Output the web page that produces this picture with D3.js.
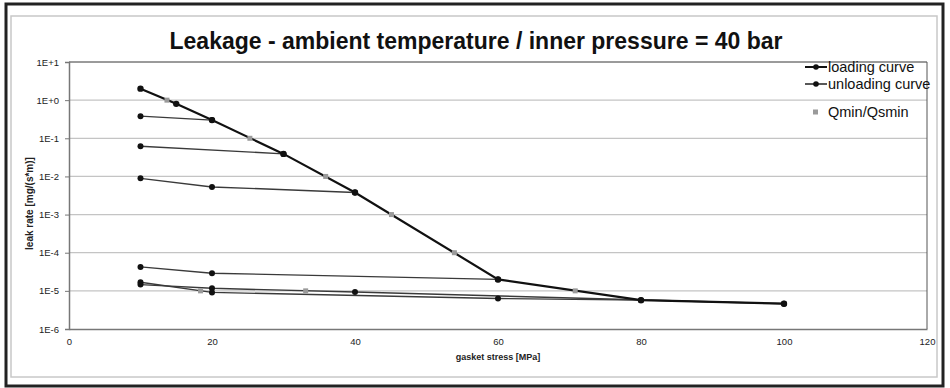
<!DOCTYPE html>
<html><head><meta charset="utf-8">
<script src="https://cdn.jsdelivr.net/npm/d3@7"></script>
<style>body{margin:0;background:#fff;} svg{display:block;font-family:"Liberation Sans",Arial,sans-serif;}</style>
</head><body>
<svg id="c" width="950" height="388"></svg>
<script>
const title = "Leakage - ambient temperature / inner pressure = 40 bar";
const xTicks = [0, 20, 40, 60, 80, 100, 120];
const yTicks = [1e-6, 1e-5, 1e-4, 1e-3, 1e-2, 1e-1, 1e0, 1e1];
const yTickLabels = ["1E-6", "1E-5", "1E-4", "1E-3", "1E-2", "1E-1", "1E+0", "1E+1"];
const loadingX = [10, 15, 20, 30, 40, 60, 80, 100];
const loadingY = [2.0, 0.8, 0.3, 0.039, 0.0038, 2.0e-5, 5.7e-6, 4.6e-6];
const unloadingCurves = [
  [[20, 0.3], [10, 0.38]],
  [[30, 0.039], [10, 0.062]],
  [[40, 0.0038], [20, 0.0053], [10, 0.0089]],
  [[60, 2.0e-5], [20, 2.9e-5], [10, 4.25e-5]],
  [[80, 5.7e-6], [60, 6.3e-6], [20, 9.1e-6], [10, 1.68e-5]],
  [[100, 4.6e-6], [40, 9.3e-6], [20, 1.17e-5], [10, 1.46e-5]]
];
const qminX = [13.7, 25.3, 35.9, 45.1, 53.9, 70.8, 18.4, 33.1];
const qminY = [1e0, 1e-1, 1e-2, 1e-3, 1e-4, 1e-5, 1e-5, 1e-5];
const legendLabels = ["loading curve", "unloading curve", "Qmin/Qsmin"];
const xTitle = "gasket stress [MPa]";
const yTitle = "leak rate [mg/(s*m)]";

const svg = d3.select("#c");
const L = 69, R = 927, T = 62, B = 329;
const x = d3.scaleLinear().domain([0, 120]).range([L, R]);
const y = d3.scaleLog().domain([1e-6, 1e1]).range([B, T]);

// frames
svg.append("rect").attr("x", 11).attr("y", 16).attr("width", 926).attr("height", 361)
  .attr("fill", "none").attr("stroke", "#c8c8c8").attr("stroke-width", 1.5);
svg.append("rect").attr("x", 6).attr("y", 4).attr("width", 937).attr("height", 382)
  .attr("fill", "none").attr("stroke", "#222").attr("stroke-width", 3);

// title
svg.append("text").attr("x", 476).attr("y", 49).attr("text-anchor", "middle")
  .attr("font-size", 23).attr("font-weight", "bold").attr("fill", "#111").text(title);

// gridlines
svg.append("g").selectAll("line").data(yTicks.slice(1)).join("line")
  .attr("x1", L).attr("x2", R).attr("y1", d => y(d)).attr("y2", d => y(d))
  .attr("stroke", "#c4c4c4").attr("stroke-width", 1.2);
// plot border top/right
svg.append("path").attr("d", `M${L},${T}H${R}V${B}`).attr("fill", "none")
  .attr("stroke", "#555").attr("stroke-width", 1);

// axes
const yAxis = d3.axisLeft(y).tickValues(yTicks).tickFormat((d, i) => yTickLabels[i]).tickSize(4).tickPadding(6);
const gy = svg.append("g").attr("transform", `translate(${L},0)`).call(yAxis);
const xAxis = d3.axisBottom(x).tickValues(xTicks).tickFormat(d3.format("d")).tickSize(0).tickPadding(9);
const gx = svg.append("g").attr("transform", `translate(0,${B})`).call(xAxis);
[gx, gy].forEach(g => {
  g.select(".domain").attr("stroke", "#777").attr("stroke-width", 1.5);
  g.selectAll(".tick line").attr("stroke", "#777");
  g.selectAll("text").attr("font-size", 9.5).attr("fill", "#222").attr("font-family", "'Liberation Sans',Arial,sans-serif");
});

// axis titles
svg.append("text").attr("x", (L + R) / 2).attr("y", 360).attr("text-anchor", "middle")
  .attr("font-size", 9).attr("font-weight", "bold").attr("fill", "#222").text(xTitle);
svg.append("text").attr("transform", `translate(33,${(T + B) / 2 + 8}) rotate(-90)`).attr("text-anchor", "middle")
  .attr("font-size", 10).attr("font-weight", "bold").attr("fill", "#222").text(yTitle);

const line = d3.line().x(d => x(d[0])).y(d => y(d[1]));

// unloading curves
const ug = svg.append("g");
unloadingCurves.forEach(c => {
  ug.append("path").datum(c).attr("d", line).attr("fill", "none")
    .attr("stroke", "#3a3a3a").attr("stroke-width", 1.4);
});
unloadingCurves.forEach(c => {
  ug.selectAll(null).data(c).join("circle").attr("cx", d => x(d[0])).attr("cy", d => y(d[1]))
    .attr("r", 3).attr("fill", "#111");
});

// loading curve
const loading = loadingX.map((v, i) => [v, loadingY[i]]);
svg.append("path").datum(loading).attr("d", line).attr("fill", "none")
  .attr("stroke", "#111").attr("stroke-width", 2.2);
svg.append("g").selectAll("circle").data(loading).join("circle")
  .attr("cx", d => x(d[0])).attr("cy", d => y(d[1])).attr("r", 3.2).attr("fill", "#111");

// Qmin points
const qmin = qminX.map((v, i) => [v, qminY[i]]);
svg.append("g").selectAll("rect").data(qmin).join("rect")
  .attr("x", d => x(d[0]) - 2.5).attr("y", d => y(d[1]) - 2.5).attr("width", 5).attr("height", 5)
  .attr("fill", "#9a9a9a");

// legend
const lg = svg.append("g");
const legY = [67, 84, 112];
legendLabels.forEach((lab, i) => {
  const yy = legY[i];
  if (i < 2) {
    lg.append("line").attr("x1", 805).attr("x2", 827).attr("y1", yy).attr("y2", yy)
      .attr("stroke", "#111").attr("stroke-width", i === 0 ? 2 : 1.4);
    lg.append("circle").attr("cx", 816).attr("cy", yy).attr("r", 2.8).attr("fill", "#111");
  } else {
    lg.append("rect").attr("x", 813).attr("y", yy - 2.5).attr("width", 5).attr("height", 5).attr("fill", "#9a9a9a");
  }
  lg.append("text").attr("x", 828).attr("y", yy + 5).attr("font-size", 14.5).attr("fill", "#111").text(lab);
});
</script>
</body></html>
